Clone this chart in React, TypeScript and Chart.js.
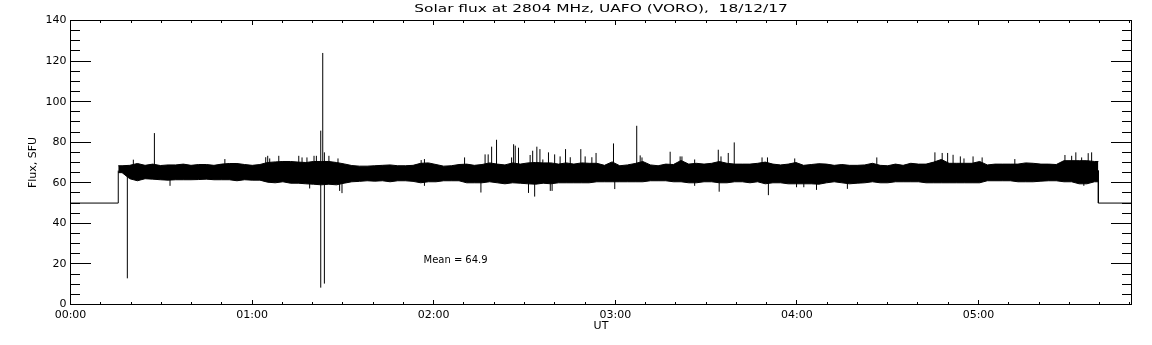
import { useEffect, useRef } from 'react';
import { Chart, registerables } from 'chart.js';

Chart.register(...registerables);

// ---- text ----
const TITLE = 'Solar flux at 2804 MHz, UAFO (VORO),  18/12/17';
const Y_TITLE = 'Flux, SFU';
const X_TITLE = 'UT';
const MEAN_LABEL = 'Mean =';
const MEAN_VALUE = '64.9';
const MEAN_POS_T = 1.944;
const MEAN_POS_V = 21.5;

// ---- axes ----
const X_MIN = 0;
const X_MAX = 5.8425;
const Y_MIN = 0;
const Y_MAX = 140;
const Y_MAJOR = 20;
const Y_MINOR = 5;
const X_MINOR_PER_HOUR = 6;
const hourLabels = ['00:00', '01:00', '02:00', '03:00', '04:00', '05:00'];

// ---- receiver off (baseline) segments: hours / SFU (null breaks the line) ----
const baseTimes = [0, 0.263, 0.263, 0.263, 5.66, 5.66, 5.66, 5.8425];
const baseValues = [50, 50, 66, null, 66, 66, 50, 50];

// ---- dense noise band, envelope per 2.5-min bin ----
const BAND_START = 0.263;
const BAND_END = 5.66;
const bandHigh = [
  68.4, 68.6, 69.5, 68.6, 69.2, 68.5, 68.8, 68.8, 69.2, 68.6,
  69.0, 69.0, 68.6, 69.2, 69.5, 69.5, 69.0, 68.6, 69.0, 70.0,
  70.3, 70.5, 70.5, 70.2, 70.0, 70.5, 70.5, 70.5, 70.0, 69.3,
  68.5, 68.2, 68.2, 68.4, 68.6, 68.8, 68.4, 68.4, 68.6, 69.6,
  69.8, 69.0, 68.2, 68.4, 69.0, 69.2, 68.6, 69.0, 69.8, 69.2,
  68.8, 69.8, 69.2, 69.8, 70.0, 69.8, 69.8, 69.2, 69.8, 69.2,
  69.8, 69.6, 69.6, 68.6, 70.3, 68.4, 68.8, 69.5, 70.5, 68.8,
  68.4, 69.2, 69.0, 71.0, 69.2, 69.6, 69.2, 69.6, 70.5, 69.6,
  69.2, 69.2, 69.2, 69.6, 70.2, 69.2, 68.8, 69.2, 70.0, 68.6,
  69.0, 69.4, 69.2, 68.6, 69.0, 68.6, 68.6, 68.8, 69.6, 68.6,
  68.4, 69.2, 68.6, 69.6, 69.2, 69.2, 70.2, 71.5, 69.6, 69.6,
  69.6, 69.6, 70.5, 68.8, 69.2, 69.2, 69.2, 69.2, 69.8, 69.6,
  69.2, 69.2, 69.0, 70.9, 70.9, 70.9, 70.9, 70.5,
];
const bandLow = [
  65.0, 62.0, 61.0, 62.0, 61.8, 61.5, 61.3, 61.5, 61.5, 61.5,
  61.6, 61.8, 61.5, 61.5, 61.5, 61.0, 61.5, 61.3, 61.3, 60.3,
  60.0, 60.5, 59.8, 59.8, 59.5, 59.3, 59.0, 59.3, 59.0, 59.8,
  60.5, 60.7, 61.0, 60.8, 61.0, 60.5, 61.0, 61.0, 60.7, 60.0,
  60.5, 60.5, 61.0, 61.0, 61.0, 60.0, 60.0, 60.0, 60.5, 60.0,
  59.5, 60.0, 59.8, 59.5, 59.3, 59.8, 59.5, 60.0, 60.0, 60.0,
  60.0, 60.0, 60.5, 60.5, 60.5, 60.5, 60.5, 60.5, 60.5, 61.0,
  61.0, 61.0, 60.5, 60.5, 60.0, 60.0, 60.5, 60.5, 60.0, 60.0,
  60.5, 60.5, 60.0, 60.5, 59.5, 60.0, 60.0, 59.5, 59.5, 59.5,
  59.5, 59.3, 60.0, 60.5, 60.0, 59.5, 59.8, 60.0, 60.5, 60.0,
  60.0, 60.5, 60.5, 60.5, 60.5, 60.0, 60.0, 60.0, 60.0, 60.0,
  60.0, 60.0, 60.0, 61.0, 61.0, 61.0, 61.0, 60.5, 60.5, 60.5,
  60.8, 61.0, 61.0, 60.5, 60.5, 59.5, 59.5, 60.5,
];

// ---- individual spikes (hours, min SFU, max SFU) ----
const spikeTimes = [
  0.313, 0.346, 0.462, 0.548, 0.85, 1.075, 1.086, 1.097, 1.147, 1.257,
  1.275, 1.302, 1.317, 1.341, 1.354, 1.378, 1.389, 1.398, 1.423, 1.473,
  1.482, 1.495, 1.931, 1.949, 2.17, 2.26, 2.283, 2.30, 2.319, 2.346,
  2.429, 2.44, 2.449, 2.467, 2.522, 2.531, 2.545, 2.556, 2.568, 2.585,
  2.601, 2.632, 2.642, 2.652, 2.666, 2.696, 2.726, 2.752, 2.81, 2.834,
  2.871, 2.894, 2.99, 2.997, 3.118, 3.137, 3.147, 3.302, 3.357, 3.367,
  3.437, 3.567, 3.572, 3.582, 3.622, 3.655, 3.808, 3.838, 3.843, 3.988,
  3.998, 4.038, 4.108, 4.278, 4.44, 4.76, 4.80, 4.83, 4.86, 4.90,
  4.92, 4.97, 5.02, 5.20, 5.476, 5.513, 5.536, 5.568, 5.58, 5.604,
  5.623,
];
const spikeLow = [
  12.9, 64, 64, 58.5, 64, 64, 64, 64, 64, 64,
  64, 64, 57.2, 64, 64, 8.3, 60, 10.3, 64, 64,
  56.0, 54.9, 64, 58.5, 64, 55.2, 64, 64, 64, 64,
  64, 64, 64, 64, 55.0, 64, 64, 53.2, 64, 64,
  64, 64, 56.0, 56.0, 64, 64, 64, 64, 64, 64,
  64, 64, 64, 56.9, 64, 64, 64, 64, 64, 64,
  58.5, 64, 55.6, 64, 64, 64, 64, 64, 53.9, 64,
  57.8, 57.8, 56.5, 57.0, 64, 64, 64, 64, 64, 64,
  64, 64, 64, 64, 64, 64, 64, 64, 58.5, 64,
  64,
];
const spikeHigh = [
  66, 71.4, 84.5, 66, 71.7, 72.6, 73.3, 72.0, 73.3, 73.3,
  72.5, 72.5, 66, 73.3, 73.3, 85.7, 124, 75.0, 73.3, 72.0,
  66, 66, 71.2, 71.7, 72.5, 66, 74.0, 74.0, 77.8, 81.2,
  72.5, 79.0, 78.3, 77.3, 66, 73.7, 75.8, 66, 77.8, 76.6,
  71.5, 75.0, 66, 66, 74.0, 73.0, 76.6, 72.6, 76.6, 73.0,
  72.6, 74.7, 79.4, 66, 88.1, 73.5, 72.5, 75.3, 73.0, 73.0,
  71.5, 76.3, 66, 73.0, 74.7, 79.9, 72.5, 72.5, 66, 72.0,
  66, 66, 66, 66, 72.5, 75.0, 74.7, 74.7, 73.8, 73.0,
  72.0, 73.0, 72.5, 71.7, 73.7, 73.3, 75.0, 72.5, 66, 74.6,
  75.0,
];

const FONT = '"DejaVu Sans", sans-serif';

const idlPlugin = {
  id: 'idlAxes',
  afterDraw(chart: any) {
    const { ctx, chartArea: a, scales } = chart;
    const xs = scales.x;
    const ys = scales.y;
    const L = Math.floor(a.left);
    const R = Math.floor(a.right);
    const T = Math.floor(a.top);
    const B = Math.floor(a.bottom);
    ctx.save();
    ctx.fillStyle = '#000';
    // frame
    ctx.fillRect(L, T, R - L + 1, 1);
    ctx.fillRect(L, B, R - L + 1, 1);
    ctx.fillRect(L, T, 1, B - T + 1);
    ctx.fillRect(R, T, 1, B - T + 1);
    // y ticks (inward, both sides)
    for (let v = Y_MIN; v <= Y_MAX + 1e-9; v += Y_MINOR) {
      const r = Math.floor(ys.getPixelForValue(v));
      const len = v % Y_MAJOR === 0 ? 21 : 10;
      ctx.fillRect(L, r, len, 1);
      ctx.fillRect(R - len + 1, r, len, 1);
    }
    // x ticks (inward, top and bottom)
    for (let k = 0; k / X_MINOR_PER_HOUR <= X_MAX; k++) {
      const c = Math.floor(xs.getPixelForValue(k / X_MINOR_PER_HOUR));
      const len = k % X_MINOR_PER_HOUR === 0 ? 5 : 3;
      ctx.fillRect(c, B - len + 1, 1, len);
      ctx.fillRect(c, T, 1, len);
    }
    // title (wide IDL-like lettering)
    ctx.font = `11px ${FONT}`;
    ctx.textBaseline = 'alphabetic';
    ctx.textAlign = 'center';
    ctx.save();
    ctx.translate((a.left + a.right) / 2, 12);
    ctx.scale(1.4, 1);
    ctx.fillText(TITLE, 0, 0);
    ctx.restore();
    // x title
    ctx.textBaseline = 'middle';
    ctx.fillText(X_TITLE, (a.left + a.right) / 2, 326);
    // y title
    ctx.save();
    ctx.translate(33, (a.top + a.bottom) / 2);
    ctx.rotate(-Math.PI / 2);
    ctx.fillText(Y_TITLE, 0, 0);
    ctx.restore();
    // mean annotation
    ctx.font = `10px ${FONT}`;
    ctx.textAlign = 'left';
    const mx = xs.getPixelForValue(MEAN_POS_T);
    const my = ys.getPixelForValue(MEAN_POS_V);
    ctx.fillText(MEAN_LABEL, mx, my);
    ctx.textAlign = 'right';
    ctx.fillText(MEAN_VALUE, mx + 64, my);
    ctx.restore();
  },
};

export default function App() {
  const ref = useRef<HTMLCanvasElement>(null);
  useEffect(() => {
    const canvas = ref.current;
    if (!canvas) return;
    const step = (BAND_END - BAND_START) / bandHigh.length;
    const bandX = bandHigh.map((_, i) => BAND_START + (i + 0.5) * step);
    // envelope edges: start / end exactly at band limits
    const lowData = [
      { x: BAND_START, y: bandLow[0] },
      ...bandLow.map((v, i) => ({ x: bandX[i], y: v })),
      { x: BAND_END, y: bandLow[bandLow.length - 1] },
    ];
    const highData = [
      { x: BAND_START, y: bandHigh[0] },
      ...bandHigh.map((v, i) => ({ x: bandX[i], y: v })),
      { x: BAND_END, y: bandHigh[bandHigh.length - 1] },
    ];
    const spikeData: any[] = [];
    spikeTimes.forEach((t, i) => {
      spikeData.push({ x: t, y: spikeLow[i] });
      spikeData.push({ x: t, y: spikeHigh[i] });
      spikeData.push({ x: t, y: null });
    });
    const baseData = baseTimes.map((t, i) => ({ x: t, y: baseValues[i] }));

    const tickFont = { family: FONT, size: 11 };
    const chart = new Chart(canvas, {
      type: 'line',
      data: {
        datasets: [
          {
            data: lowData,
            borderColor: '#000',
            borderWidth: 1,
            pointRadius: 0,
            fill: false,
            order: 4,
          } as any,
          {
            data: highData,
            borderColor: '#000',
            borderWidth: 1,
            backgroundColor: '#000',
            pointRadius: 0,
            fill: '-1',
            order: 3,
          } as any,
          {
            data: spikeData,
            borderColor: '#000',
            borderWidth: 1,
            pointRadius: 0,
            spanGaps: false,
            fill: false,
            order: 2,
          } as any,
          {
            data: baseData,
            borderColor: '#000',
            borderWidth: 1,
            pointRadius: 0,
            spanGaps: false,
            fill: false,
            order: 1,
          } as any,
        ],
      },
      options: {
        responsive: false,
        animation: false,
        devicePixelRatio: 1,
        events: [],
        layout: { padding: { top: 20.5, right: 20.5, left: 0, bottom: 0 } },
        plugins: {
          legend: { display: false },
          title: { display: false },
          tooltip: { enabled: false },
          filler: { propagate: false },
        },
        scales: {
          x: {
            type: 'linear',
            min: X_MIN,
            max: X_MAX,
            offset: false,
            grid: { display: false, drawTicks: false },
            border: { display: false },
            ticks: {
              stepSize: 1,
              includeBounds: false,
              autoSkip: false,
              maxRotation: 0,
              color: '#000',
              font: tickFont,
              padding: 4,
              callback: (v: any) => hourLabels[Math.round(Number(v))] ?? '',
            },
            afterFit: (s: any) => {
              s.height = 40.5;
            },
          },
          y: {
            type: 'linear',
            min: Y_MIN,
            max: Y_MAX,
            grid: { display: false, drawTicks: false },
            border: { display: false },
            ticks: {
              stepSize: Y_MAJOR,
              color: '#000',
              font: tickFont,
              padding: 4,
            },
            afterFit: (s: any) => {
              s.width = 70.5;
            },
          },
        },
      } as any,
      plugins: [idlPlugin],
    });
    return () => chart.destroy();
  }, []);
  return (
    <canvas
      ref={ref}
      width={1152}
      height={345}
      style={{ position: 'absolute', left: 0, top: 0, display: 'block', background: '#fff' }}
    />
  );
}
